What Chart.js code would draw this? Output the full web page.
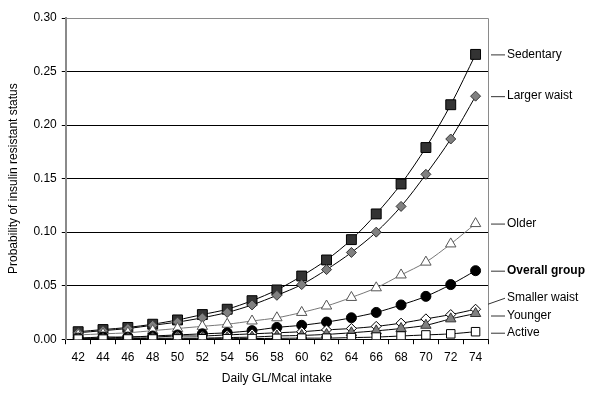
<!DOCTYPE html>
<html>
<head>
<meta charset="utf-8">
<script src="https://cdn.jsdelivr.net/npm/chart.js@4"></script>
<style>
  html, body { margin: 0; padding: 0; background: #fff; }
  #wrap { width: 600px; height: 401px; }
</style>
</head>
<body>
<div id="wrap"><canvas id="chart" width="600" height="401"></canvas></div>
<script>
// categories
const intake = [42, 44, 46, 48, 50, 52, 54, 56, 58, 60, 62, 64, 66, 68, 70, 72, 74];
const yTicks = [0, 0.05, 0.10, 0.15, 0.20, 0.25, 0.30];

// series values
const sedentary    = [0.007, 0.009, 0.011, 0.014, 0.018, 0.023, 0.028, 0.036, 0.046, 0.059, 0.074, 0.093, 0.117, 0.145, 0.179, 0.219, 0.266];
const largerWaist  = [0.006, 0.008, 0.010, 0.013, 0.016, 0.020, 0.025, 0.032, 0.041, 0.051, 0.065, 0.081, 0.100, 0.124, 0.154, 0.187, 0.227];
const older        = [0.004, 0.005, 0.006, 0.008, 0.010, 0.012, 0.014, 0.017, 0.020, 0.025, 0.031, 0.039, 0.048, 0.060, 0.072, 0.089, 0.108];
const overall      = [0.001, 0.002, 0.002, 0.003, 0.004, 0.005, 0.006, 0.008, 0.011, 0.013, 0.016, 0.020, 0.025, 0.032, 0.040, 0.051, 0.064];
const smallerWaist = [0.001, 0.001, 0.002, 0.002, 0.003, 0.003, 0.004, 0.005, 0.006, 0.007, 0.0087, 0.010, 0.012, 0.015, 0.019, 0.023, 0.028];
const younger      = [0.0003, 0.0004, 0.0005, 0.0008, 0.001, 0.001, 0.0015, 0.002, 0.003, 0.0035, 0.0045, 0.006, 0.0078, 0.010, 0.013, 0.019, 0.024];
const active       = [0.0001, 0.0001, 0.0002, 0.0002, 0.0003, 0.0004, 0.0005, 0.0006, 0.0008, 0.001, 0.001, 0.0015, 0.002, 0.003, 0.004, 0.005, 0.007];

const seriesNames = ['Sedentary', 'Larger waist', 'Older', 'Overall group', 'Smaller waist', 'Younger', 'Active'];

const FONT = '"Liberation Sans", Arial, sans-serif';

function series(label, data, idx, pointStyle, radius, fill, border, line) {
    return {
        label: label,
        data: data,
        labelIndex: idx,
        pointStyle: pointStyle,
        pointRadius: radius,
        pointHoverRadius: radius,
        pointBackgroundColor: fill,
        pointBorderColor: border,
        pointBorderWidth: 1,
        borderColor: line,
        borderWidth: 1,
        tension: 0.3,
        fill: false
    };
}

// right-hand labels with leader lines, plus grey top/right frame
const sideLabels = {
    id: 'sideLabels',
    afterDraw(chart) {
        const ctx = chart.ctx;
        const area = chart.chartArea;
        const y = chart.scales.y;
        ctx.save();
        ctx.strokeStyle = '#8a8a8a';
        ctx.lineWidth = 1;
        ctx.beginPath();
        ctx.moveTo(area.left, area.top + 0.5);
        ctx.lineTo(area.right + 0.5, area.top + 0.5);
        ctx.lineTo(area.right + 0.5, area.bottom);
        ctx.stroke();

        const nudge = [0, 0, 0, 0, -12, 2, 1];
        ctx.textBaseline = 'middle';
        chart.data.datasets.forEach(ds => {
            const i = ds.labelIndex;
            const last = ds.data[ds.data.length - 1];
            const py = y.getPixelForValue(last);
            const ly = py + nudge[i];
            ctx.strokeStyle = '#333';
            ctx.beginPath();
            if (i === 4) {
                ctx.moveTo(area.right, py - 5);
                ctx.lineTo(area.right + 17, ly + 1);
            } else {
                ctx.moveTo(area.right + 3, ly + 0.5);
                ctx.lineTo(area.right + 17, ly + 0.5);
            }
            ctx.stroke();
            ctx.fillStyle = '#000';
            ctx.font = (i === 3 ? 'bold ' : '') + '12px ' + FONT;
            ctx.fillText(ds.label, area.right + 19, ly);
        });
        ctx.restore();
    }
};

const ctx = document.getElementById('chart').getContext('2d');
new Chart(ctx, {
    type: 'line',
    data: {
        labels: intake,
        // drawn bottom-up so the upper curves sit on top
        datasets: [
            series(seriesNames[6], active,       6, 'rect',     6, '#ffffff', '#000', '#000'),
            series(seriesNames[5], younger,      5, 'triangle', 6, '#808080', '#333', '#000'),
            series(seriesNames[4], smallerWaist, 4, 'rectRot',  5, '#ffffff', '#000', '#000'),
            series(seriesNames[3], overall,      3, 'circle',   5, '#000000', '#000', '#000'),
            series(seriesNames[2], older,        2, 'triangle', 6, '#ffffff', '#555', '#777'),
            series(seriesNames[1], largerWaist,  1, 'rectRot',  5, '#808080', '#333', '#000'),
            series(seriesNames[0], sedentary,    0, 'rect',     7, '#333333', '#000', '#000')
        ]
    },
    options: {
        responsive: false,
        animation: false,
        layout: { padding: { top: 18, right: 112, left: 6, bottom: 15 } },
        plugins: {
            legend: { display: false },
            tooltip: { enabled: false }
        },
        scales: {
            x: {
                type: 'category',
                offset: true,
                grid: {
                    offset: true,
                    drawOnChartArea: false,
                    drawTicks: true,
                    tickLength: 5,
                    color: '#000'
                },
                border: { color: '#000', width: 1 },
                ticks: {
                    color: '#000',
                    font: { family: FONT, size: 12 },
                    padding: 6,
                    maxRotation: 0,
                    autoSkip: false
                },
                title: {
                    display: true,
                    text: 'Daily GL/Mcal intake',
                    color: '#000',
                    font: { family: FONT, size: 12 },
                    padding: { top: 1, bottom: 0 }
                }
            },
            y: {
                min: 0,
                max: 0.30,
                afterBuildTicks(scale) {
                    scale.ticks = yTicks.map(v => ({ value: v }));
                },
                grid: {
                    color: c => (c.tick && c.tick.value >= 0.30 ? '#8a8a8a' : '#000'),
                    tickColor: '#000',
                    tickLength: 4,
                    lineWidth: 1
                },
                border: { color: '#8a8a8a', width: 2 },
                ticks: {
                    color: '#000',
                    font: { family: FONT, size: 12 },
                    padding: 5,
                    callback: v => Number(v).toFixed(2)
                },
                title: {
                    display: true,
                    text: 'Probability of insulin resistant status',
                    color: '#000',
                    font: { family: FONT, size: 12 },
                    padding: { top: 0, bottom: 8 }
                }
            }
        }
    },
    plugins: [sideLabels]
});
</script>
</body>
</html>
